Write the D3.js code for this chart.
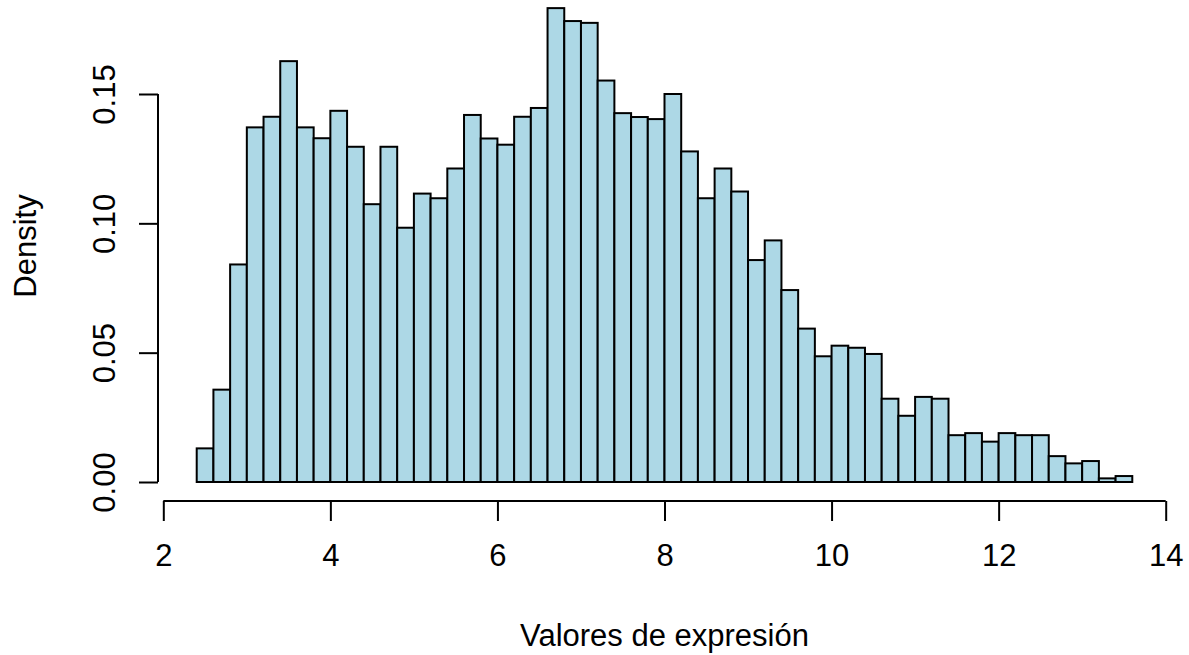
<!DOCTYPE html>
<html>
<head>
<meta charset="utf-8">
<script src="https://cdn.jsdelivr.net/npm/d3@7"></script>
<style>
  html, body { margin: 0; padding: 0; background: #ffffff; }
  svg { display: block; }
  text { font-family: "Liberation Sans", Arial, Helvetica, sans-serif; fill: #000; }
</style>
</head>
<body>
<svg id="chart" width="1189" height="655"></svg>
<script>
// Histogram bin edges (width 0.2)
const breaks = [2.4, 2.6, 2.8, 3.0, 3.2, 3.4, 3.6, 3.8, 4.0, 4.2, 4.4, 4.6, 4.8, 5.0,
  5.2, 5.4, 5.6, 5.8, 6.0, 6.2, 6.4, 6.6, 6.8, 7.0, 7.2, 7.4, 7.6, 7.8, 8.0,
  8.2, 8.4, 8.6, 8.8, 9.0, 9.2, 9.4, 9.6, 9.8, 10.0, 10.2, 10.4, 10.6, 10.8, 11.0,
  11.2, 11.4, 11.6, 11.8, 12.0, 12.2, 12.4, 12.6, 12.8, 13.0, 13.2, 13.4, 13.6];

// Density of each bin
const density = [0.0130, 0.0357, 0.0841, 0.1371, 0.1412, 0.1627, 0.1371, 0.1329, 0.1435, 0.1296,
  0.1074, 0.1296, 0.0983, 0.1115, 0.1097, 0.1212, 0.1419, 0.1328, 0.1304, 0.1412,
  0.1446, 0.1832, 0.1782, 0.1775, 0.1552, 0.1426, 0.1411, 0.1403, 0.1500, 0.1278,
  0.1097, 0.1212, 0.1123, 0.0858, 0.0934, 0.0742, 0.0593, 0.0486, 0.0527, 0.0519,
  0.0495, 0.0322, 0.0256, 0.0329, 0.0322, 0.0181, 0.0189, 0.0156, 0.0189, 0.0181,
  0.0181, 0.0100, 0.0072, 0.0081, 0.0014, 0.0023];

const xTicks = [2, 4, 6, 8, 10, 12, 14];
const yTicks = [0.00, 0.05, 0.10, 0.15];
const xLabel = "Valores de expresión";
const yLabel = "Density";

const bins = density.map((d, i) => ({ x0: breaks[i], x1: breaks[i + 1], value: d }));

const svg = d3.select("#chart");
const x = d3.scaleLinear().domain([2, 14]).range([163.3, 1165.7]);
const y = d3.scaleLinear().domain([0, 0.15]).range([482, 94]);

const fontSize = 31;

// Bars
svg.append("g")
  .selectAll("rect")
  .data(bins)
  .join("rect")
  .attr("x", d => x(d.x0))
  .attr("y", d => y(d.value))
  .attr("width", d => x(d.x1) - x(d.x0))
  .attr("height", d => y(0) - y(d.value))
  .attr("fill", "#ADD8E6")
  .attr("stroke", "#000")
  .attr("stroke-width", 2);

// x axis
const xAxis = svg.append("g")
  .attr("transform", "translate(0,501)")
  .call(d3.axisBottom(x).tickValues(xTicks).tickSize(20).tickPadding(23).tickSizeOuter(0)
    .tickFormat(d3.format("d")));
xAxis.select(".domain").attr("stroke", "#000").attr("stroke-width", 2)
  .attr("d", `M${x(2)},0H${x(14)}`);
xAxis.selectAll(".tick line").attr("stroke", "#000").attr("stroke-width", 2);
xAxis.selectAll(".tick text")
  .attr("font-size", fontSize)
  .attr("font-family", "Liberation Sans, Arial, sans-serif")
  .attr("fill", "#000");

// y axis
const yAxis = svg.append("g")
  .attr("transform", "translate(158,0)")
  .call(d3.axisLeft(y).tickValues(yTicks).tickSize(19).tickSizeOuter(0)
    .tickFormat(d3.format(".2f")));
yAxis.select(".domain").attr("stroke", "#000").attr("stroke-width", 2)
  .attr("d", `M0,${y(0)}V${y(0.15)}`);
yAxis.selectAll(".tick line").attr("stroke", "#000").attr("stroke-width", 2);
yAxis.selectAll(".tick text")
  .attr("font-size", fontSize)
  .attr("font-family", "Liberation Sans, Arial, sans-serif")
  .attr("fill", "#000")
  .attr("x", null)
  .attr("dy", null)
  .attr("text-anchor", "middle")
  .attr("transform", "translate(-43,0) rotate(-90)");

// Axis titles
svg.append("text")
  .attr("x", x(8))
  .attr("y", 646)
  .attr("text-anchor", "middle")
  .attr("font-size", fontSize)
  .text(xLabel);

svg.append("text")
  .attr("transform", `translate(36,246) rotate(-90)`)
  .attr("text-anchor", "middle")
  .attr("font-size", fontSize)
  .text(yLabel);
</script>
</body>
</html>
